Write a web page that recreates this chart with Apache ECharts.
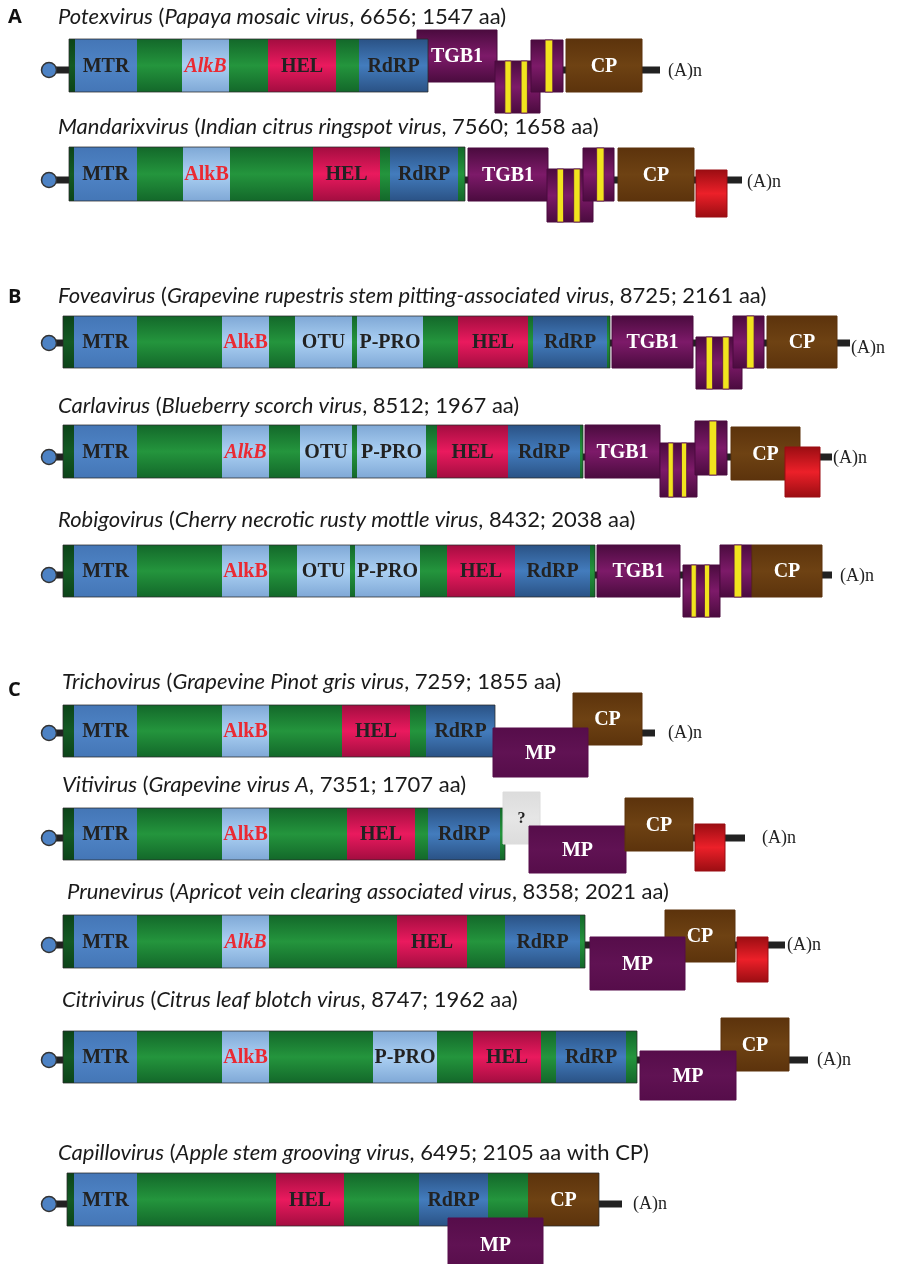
<!DOCTYPE html>
<html><head><meta charset="utf-8">
<script src="https://cdn.jsdelivr.net/npm/echarts@6/dist/echarts.min.js"></script>
<style>html,body{margin:0;padding:0;background:#fff}#c{width:898px;height:1264px}</style>
</head><body><div id="c"></div>
<script>
// ---------- data ----------
const sectionLabels = ['A','','B','','','C','','','',''];
const sectionLabelY = [17,0,297,0,0,690,0,0,0,0];
const genera = ['Potexvirus','Mandarixvirus','Foveavirus','Carlavirus','Robigovirus','Trichovirus','Vitivirus','Prunevirus','Citrivirus','Capillovirus'];
const virusNames = ['Papaya mosaic virus','Indian citrus ringspot virus','Grapevine rupestris stem pitting-associated virus','Blueberry scorch virus','Cherry necrotic rusty mottle virus','Grapevine Pinot gris virus','Grapevine virus A','Apricot vein clearing associated virus','Citrus leaf blotch virus','Apple stem grooving virus'];
const genomeNt = [6656,7560,8725,8512,8432,7259,7351,8358,8747,6495];
const repAa = [1547,1658,2161,1967,2038,1855,1707,2021,1962,2105];
const aaSuffix = ['','','','','','','','','',' with CP'];
const titleX = [58,58,58,58,58,62,62,67,62,58];
const titleY = [17,127,296,406,520,682,785,892,1000,1153];
const italicAlkB = [true,false,false,true,false,false,false,true,false,false];

// genome bar: top/bottom and 5' stem level (diagram units)
const barTop = [39,147,316,425,545,705,808,915,1031,1173];
const barBottom = [92,201,368,478,597,757,860,968,1083,1226];
const stemY = [70,180,343,457,575,733,838,945,1060,1204];
const capX = [49,49,49,49,49,49,49,49,49,49];

// domains along the replicase ORF: [name, start, end]
const barSegments = [
  [['edge',69,75],['MTR',75,137],['g',137,182],['AlkB',182,229],['g',229,268],['HEL',268,336],['g',336,359],['RdRP',359,428]],
  [['edge',69,74],['MTR',74,137],['g',137,183],['AlkB',183,230],['g',230,313],['HEL',313,380],['g',380,390],['RdRP',390,458],['g',458,465]],
  [['edge',63,74],['MTR',74,137],['g',137,222],['AlkB',222,269],['g',269,295],['OTU',295,352],['g',352,357],['P-PRO',357,423],['g',423,458],['HEL',458,528],['g',528,533],['RdRP',533,607],['g',607,610]],
  [['edge',63,74],['MTR',74,137],['g',137,222],['AlkB',222,269],['g',269,300],['OTU',300,352],['g',352,357],['P-PRO',357,426],['g',426,437],['HEL',437,508],['RdRP',508,580],['g',580,583]],
  [['edge',63,74],['MTR',74,137],['g',137,222],['AlkB',222,269],['g',269,297],['OTU',297,350],['g',350,355],['P-PRO',355,420],['g',420,447],['HEL',447,515],['RdRP',515,590],['g',590,595]],
  [['edge',63,74],['MTR',74,137],['g',137,222],['AlkB',222,269],['g',269,342],['HEL',342,410],['g',410,426],['RdRP',426,495]],
  [['edge',63,74],['MTR',74,137],['g',137,222],['AlkB',222,269],['g',269,347],['HEL',347,415],['g',415,428],['RdRP',428,500],['g',500,505]],
  [['edge',63,74],['MTR',74,137],['g',137,222],['AlkB',222,269],['g',269,397],['HEL',397,467],['g',467,505],['RdRP',505,580],['g',580,585]],
  [['edge',63,74],['MTR',74,137],['g',137,222],['AlkB',222,269],['g',269,373],['P-PRO',373,437],['g',437,473],['HEL',473,541],['g',541,556],['RdRP',556,626],['g',626,637]],
  [['edge',67,74],['MTR',74,137],['g',137,276],['HEL',276,344],['g',344,419],['RdRP',419,488],['g',488,528],['CP',528,599]]
];
// downstream ORFs: [name, start, end, top, bottom]
const backOrfs = [
  [['TGB1',417,497,30,82]],[],[],[],[],[],[],[],[],[]
];
const frontOrfs = [
  [['TGB2',495,540,61,113],['TGB3',531,563,40,92],['CP',566,642,39,92]],
  [['TGB1',468,548,148,201],['TGB2',547,593,169,222],['TGB3',583,614,148,201],['CP',618,694,148,201],['red',696,727,170,217]],
  [['TGB1',612,693,316,368],['TGB2',696,742,337,389],['TGB3',733,764,316,368],['CP',767,837,316,368]],
  [['TGB1',585,660,425,478],['TGB2',660,697,443,497],['TGB3',695,727,421,475],['CP',731,800,427,480],['red',785,820,447,497]],
  [['TGB1',597,680,545,597],['TGB2',683,720,565,617],['TGB3',720,752,545,597],['CP',752,822,545,597]],
  [['CP',573,642,693,745],['MP',493,588,728,777]],
  [['?',503,540,792,844],['MP',529,626,826,873],['CP',625,693,798,851],['red',695,725,824,871]],
  [['CP',665,735,910,962],['MP',590,685,937,990],['red',737,768,937,982]],
  [['CP',721,789,1018,1071],['MP',640,736,1051,1100]],
  [['MP',448,543,1218,1272]]
];
// 3' tail: backbone from/to and poly(A) label position
const tailStart = [428,465,609,583,595,495,505,585,637,599];
const tailEnd = [660,742,850,832,832,655,745,785,808,622];
const polyAX = [668,747,851,833,840,668,762,787,817,633];
const polyAY = [71,182,348,458,576,733,838,945,1060,1204];

// ---------- styles ----------
const FILL = {
  g:['#13682a','#24953d'], edge:['#0c4419','#145a24'],
  MTR:['#4476b6','#4f84c6'], AlkB:['#7fa8d6','#abd0f3'], OTU:['#7fa8d6','#abd0f3'], 'P-PRO':['#7fa8d6','#abd0f3'],
  HEL:['#a30d40','#ea1a5e'], RdRP:['#2a5285','#437cbd'],
  TGB1:['#4a0b3e','#7d1a69'], TGB2:['#4a0b3e','#7d1a69'], TGB3:['#4a0b3e','#7d1a69'],
  CP:['#5c330c','#6e4213'], MP:['#560d4a','#601253'], red:['#9a0d12','#ec2029'], '?':['#dcdcdc','#e6e6e6']
};
const SHOW_LABEL = {MTR:1,AlkB:1,OTU:1,'P-PRO':1,HEL:1,RdRP:1,TGB1:1,CP:1,MP:1,'?':1};
const WHITE_LABEL = {TGB1:1,CP:1,MP:1};
function grad(c){
  return new echarts.graphic.LinearGradient(0,0,0,1,[{offset:0,color:c[0]},{offset:0.5,color:c[1]},{offset:1,color:c[0]}]);
}

// ---------- build drawing items ----------
const items = [];
for (let r = 0; r < genera.length; r++) {
  const segs = barSegments[r];
  const x0 = segs[0][1], x1 = segs[segs.length-1][2];
  items.push({kind:'line', x0:tailStart[r], x1:tailEnd[r], y:stemY[r], w:7});
  items.push({kind:'line', x0:capX[r], x1:x0, y:stemY[r], w:7});
  items.push({kind:'cap', x:capX[r], y:stemY[r]});
  backOrfs[r].forEach(o => items.push({kind:'box', name:o[0], x0:o[1], x1:o[2], y0:o[3], y1:o[4], row:r}));
  segs.forEach(s => items.push({kind:'seg', name:s[0], x0:s[1], x1:s[2], y0:barTop[r], y1:barBottom[r], row:r}));
  items.push({kind:'outline', x0:x0, x1:x1, y0:barTop[r], y1:barBottom[r]});
  frontOrfs[r].forEach(o => items.push({kind:'box', name:o[0], x0:o[1], x1:o[2], y0:o[3], y1:o[4], row:r}));
  items.push({kind:'polyA', x:polyAX[r], y:polyAY[r]});
  items.push({kind:'title', x:titleX[r], y:titleY[r], row:r});
  if (sectionLabels[r]) items.push({kind:'section', x:8, y:sectionLabelY[r], text:sectionLabels[r]});
}

function renderItem(params, api) {
  const it = items[params.dataIndex];
  if (it.kind === 'line') {
    const a = api.coord([it.x0, it.y]), b = api.coord([it.x1, it.y]);
    return {type:'rect', shape:{x:a[0], y:a[1]-it.w/2, width:b[0]-a[0], height:it.w}, style:{fill:'#222'}};
  }
  if (it.kind === 'cap') {
    const p = api.coord([it.x, it.y]);
    return {type:'circle', shape:{cx:p[0], cy:p[1], r:7.5}, style:{fill:'#4d82c4', stroke:'#333', lineWidth:1.5}};
  }
  if (it.kind === 'outline') {
    const a = api.coord([it.x0, it.y0]), b = api.coord([it.x1, it.y1]);
    return {type:'rect', shape:{x:a[0], y:a[1], width:b[0]-a[0], height:b[1]-a[1]}, style:{fill:null, stroke:'rgba(40,40,40,0.75)', lineWidth:1}};
  }
  if (it.kind === 'seg' || it.kind === 'box') {
    const a = api.coord([it.x0, it.y0]), b = api.coord([it.x1, it.y1]);
    const w = b[0]-a[0], h = b[1]-a[1];
    const children = [];
    const col = FILL[it.name];
    children.push({type:'rect', shape:{x:a[0], y:a[1], width:w, height:h},
      style:{fill:grad(col), stroke: it.kind==='box' ? col[0] : null, lineWidth:1}});
    if (it.name === 'TGB2') {
      [[0.22,0.36],[0.58,0.72]].forEach(f => children.push({type:'rect', shape:{x:a[0]+w*f[0], y:a[1], width:w*(f[1]-f[0]), height:h}, style:{fill:'#f1e41e', stroke:'#5a1048', lineWidth:0.8}}));
    }
    if (it.name === 'TGB3') {
      children.push({type:'rect', shape:{x:a[0]+w*0.44, y:a[1], width:w*0.24, height:h}, style:{fill:'#f1e41e', stroke:'#5a1048', lineWidth:0.8}});
    }
    if (SHOW_LABEL[it.name]) {
      const isAlk = it.name === 'AlkB';
      children.push({type:'text', style:{
        text: it.name, x:a[0]+w/2, y:a[1]+h/2+1, align:'center', verticalAlign:'middle',
        fontFamily:'"Liberation Serif","Times New Roman",serif', fontWeight:'bold', fontSize: it.name==='?' ? 16 : 20,
        fontStyle: (isAlk && italicAlkB[it.row]) ? 'italic' : 'normal',
        fill: isAlk ? '#ea2a33' : (WHITE_LABEL[it.name] ? '#ffffff' : '#222222')
      }});
    }
    return {type:'group', children};
  }
  if (it.kind === 'polyA') {
    const p = api.coord([it.x, it.y]);
    return {type:'text', style:{text:'(A)n', x:p[0], y:p[1], align:'left', verticalAlign:'middle',
      fontFamily:'"Liberation Serif","Times New Roman",serif', fontSize:18, fill:'#222'}};
  }
  if (it.kind === 'title') {
    const p = api.coord([it.x, it.y]);
    const r = it.row;
    const txt = '{i|' + genera[r] + '} (' + '{i|' + virusNames[r] + '}, ' + genomeNt[r] + '; ' + repAa[r] + ' aa' + aaSuffix[r] + ')';
    return {type:'text', style:{text:txt, x:p[0], y:p[1], align:'left', verticalAlign:'middle',
      fontFamily:'Lato', fontSize:22, fill:'#1a1a1a',
      rich:{i:{fontStyle:'italic', fontFamily:'Lato', fontSize:22, fill:'#1a1a1a'}}}};
  }
  if (it.kind === 'section') {
    const p = api.coord([it.x, it.y]);
    return {type:'text', style:{text:it.text, x:p[0], y:p[1], align:'left', verticalAlign:'middle',
      fontFamily:'"Open Sans","Liberation Sans",sans-serif', fontWeight:'bold', fontSize:20, fill:'#111'}};
  }
  return null;
}

const chart = echarts.init(document.getElementById('c'), null, {renderer:'canvas'});
chart.setOption({
  animation:false,
  backgroundColor:'#ffffff',
  grid:{left:0, right:0, top:0, bottom:0},
  xAxis:{type:'value', min:0, max:898, show:false},
  yAxis:{type:'value', min:0, max:1264, inverse:true, show:false},
  series:[{type:'custom', renderItem, clip:false, silent:true,
    data: items.map((it, i) => [it.x0 !== undefined ? it.x0 : it.x, it.y0 !== undefined ? it.y0 : it.y])}]
});
</script></body></html>
